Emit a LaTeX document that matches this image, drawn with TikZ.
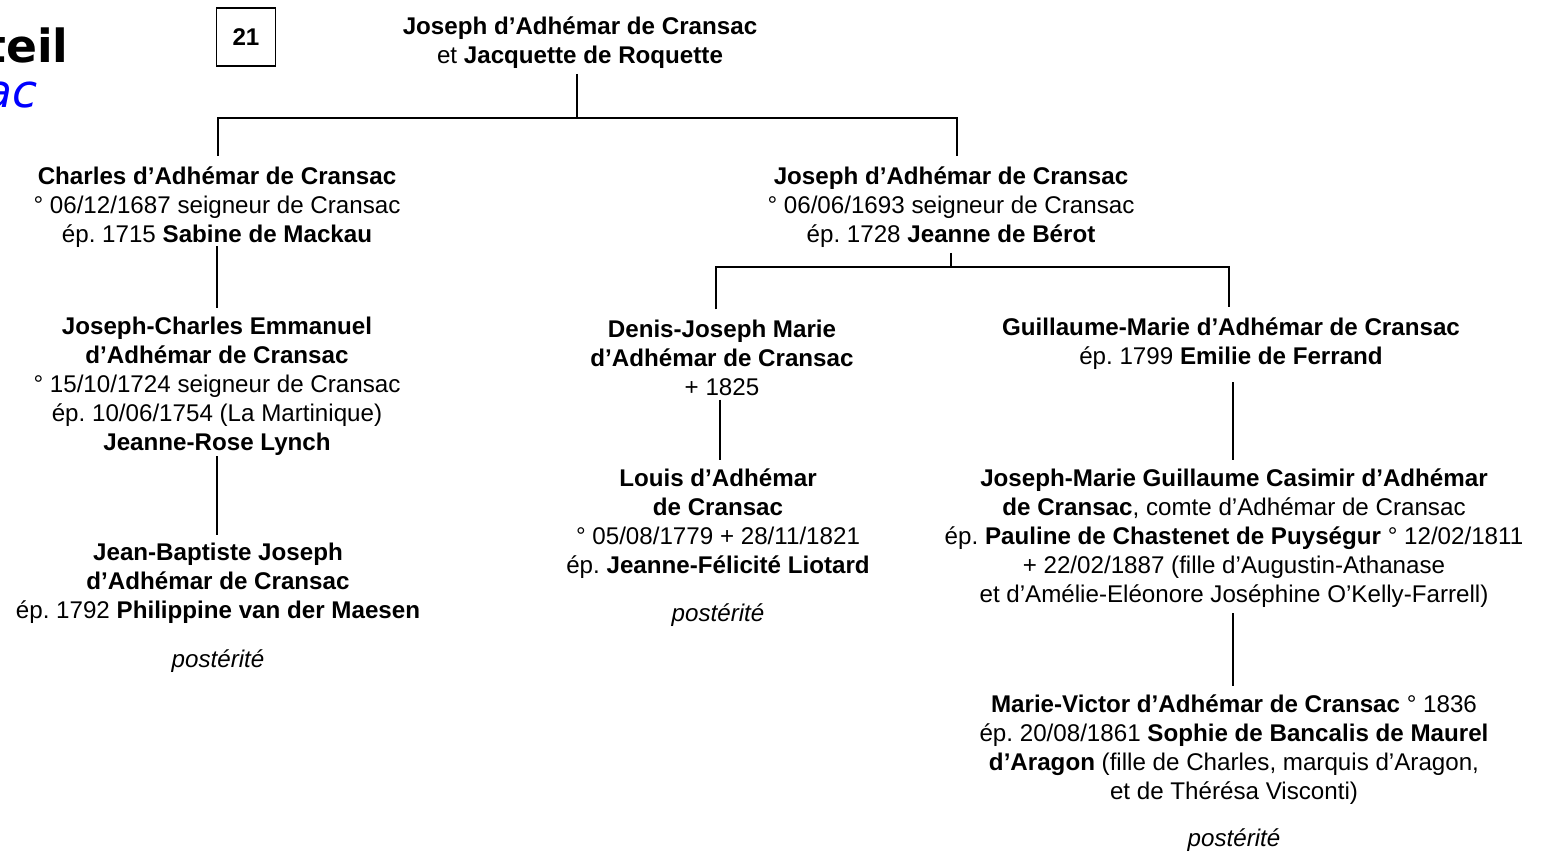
\documentclass[tikz,border=0pt]{standalone}
\usepackage{fontspec}
\setmainfont{Liberation Sans}
\newfontfamily\verdana{DejaVu Sans}
\frenchspacing

\begin{document}
\begin{tikzpicture}[
    x=0.02cm, y=-0.02cm,
    person/.style={align=center, inner sep=0pt, font=\fontsize{13.75}{16.45}\selectfont},
    note/.style={inner sep=0pt, font=\fontsize{13.75}{16.45}\selectfont\itshape},
    numbox/.style={draw, line width=0.8pt, minimum width=1.18cm, minimum height=1.16cm, inner sep=0pt, font=\fontsize{13.75}{16.45}\selectfont\bfseries},
    link/.style={line width=1.1pt}
]
\useasboundingbox (0,0) rectangle (1545,853);

% Title
\node[anchor=base east, inner sep=0pt, font=\fontsize{26}{30}\verdana\bfseries] (title) at (69,62) {teil};
\node[anchor=base east, inner sep=0pt, text=blue, font=\fontsize{26}{30}\verdana\itshape] (subtitle) at (38,107) {ac};
\node[numbox] (num) at (246,37) {21};

% Parents
\node[person] (top) at (580,42.5) {{\bfseries Joseph d’Adhémar de Cransac}\\et {\bfseries Jacquette de Roquette}};

% Left branch
\node[person] (charles) at (217,207) {{\bfseries Charles d’Adhémar de Cransac}\\° 06/12/1687 seigneur de Cransac\\ép. 1715 {\bfseries Sabine de Mackau}};
\node[person] (jcharles) at (217,386.5) {{\bfseries Joseph-Charles Emmanuel}\\{\bfseries d’Adhémar de Cransac}\\° 15/10/1724 seigneur de Cransac\\ép. 10/06/1754 (La Martinique)\\{\bfseries Jeanne-Rose Lynch}};
\node[person] (jbaptiste) at (218,583.5) {{\bfseries Jean-Baptiste Joseph}\\{\bfseries d’Adhémar de Cransac}\\ép. 1792 {\bfseries Philippine van der Maesen}};
\node[note] (post1) at (218,661) {postérité};

% Right branch
\node[person] (joseph) at (951,207) {{\bfseries Joseph d’Adhémar de Cransac}\\° 06/06/1693 seigneur de Cransac\\ép. 1728 {\bfseries Jeanne de Bérot}};
\node[person] (denis) at (722,358) {{\bfseries Denis-Joseph Marie}\\{\bfseries d’Adhémar de Cransac}\\+ 1825};
\node[person] (louis) at (718,523.5) {{\bfseries Louis d’Adhémar}\\{\bfseries de Cransac}\\° 05/08/1779 + 28/11/1821\\ép. {\bfseries Jeanne-Félicité Liotard}};
\node[note] (post2) at (718,615) {postérité};
\node[person] (guillaume) at (1231,343.5) {{\bfseries Guillaume-Marie d’Adhémar de Cransac}\\ép. 1799 {\bfseries Emilie de Ferrand}};
\node[person] (jmarie) at (1234,538) {{\bfseries Joseph-Marie Guillaume Casimir d’Adhémar}\\{\bfseries de Cransac}, comte d’Adhémar de Cransac\\ép. {\bfseries Pauline de Chastenet de Puységur} ° 12/02/1811\\+ 22/02/1887 (fille d’Augustin-Athanase\\et d’Amélie-Eléonore Joséphine O’Kelly-Farrell)};
\node[person] (mvictor) at (1234,749.5) {{\bfseries Marie-Victor d’Adhémar de Cransac} ° 1836\\ép. 20/08/1861 {\bfseries Sophie de Bancalis de Maurel}\\{\bfseries d’Aragon} (fille de Charles, marquis d’Aragon,\\et de Thérésa Visconti)};
\node[note] (post3) at (1234,840) {postérité};

% Brackets
\coordinate (bar1) at (577,118);
\coordinate (bar2) at (951,267);
\draw[link, shorten <=3pt] (bar1 |- top.south) -- (bar1);
\draw[link, shorten <=6pt, shorten >=6pt] (charles.north -| 218,0) |- (bar1) -| (joseph.north -| 957,0);
\draw[link, shorten <=3pt] (joseph.south) -- (bar2);
\draw[link, shorten <=6pt, shorten >=6pt] (denis.north -| 716,0) |- (bar2) -| (guillaume.north -| 1229,0);

% Descent lines
\draw[link, shorten <=-0.8pt, shorten >=4.9pt] (charles.south) -- (charles.south |- jcharles.north);
\draw[link, shorten <=0.3pt, shorten >=4.3pt] (jcharles.south) -- (jcharles.south |- jbaptiste.north);
\draw[link, shorten <=2pt, shorten >=4.9pt] (denis.south -| 720,0) -- (louis.north -| 720,0);
\draw[link, shorten <=7.2pt, shorten >=4.9pt] (guillaume.south -| 1233,0) -- (jmarie.north -| 1233,0);
\draw[link, shorten <=3.2pt, shorten >=4.9pt] (jmarie.south -| 1233,0) -- (mvictor.north -| 1233,0);

\end{tikzpicture}
\end{document}
